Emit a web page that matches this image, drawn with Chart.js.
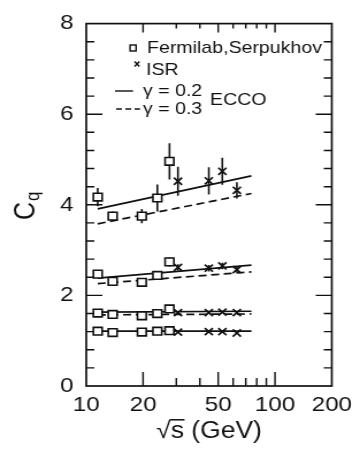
<!DOCTYPE html>
<html lang="en">
<head>
    <meta charset="UTF-8">
    <title>Cq vs sqrt(s)</title>
    <script src="https://cdn.jsdelivr.net/npm/chart.js"></script>
    <style>
        html, body {
            margin: 0;
            padding: 0;
            background: #fff;
            overflow: hidden;
        }
        /* the original figure is stretched sideways, so the canvas is too */
        #wrap {
            width: 313px;
            height: 453px;
            transform: scaleX(1.1502);
            transform-origin: 0 0;
        }
    </style>
</head>
<body>
<div id="wrap">
    <canvas id="cq" width="313" height="453"></canvas>
</div>

<script>
    // sqrt(s) in GeV
    const fsEnergy = [11.5, 13.8, 19.7, 23.8, 27.6];
    const isrEnergy = [30.6, 44.6, 52.6, 62.8];
    const eccoEnergy = [11.5, 75];

    // Fermilab, Serpukhov moments and errors
    const fsC2 = [1.21, 1.18, 1.19, 1.21, 1.22];
    const fsC3 = [1.61, 1.58, 1.55, 1.60, 1.70];
    const fsC4 = [2.47, 2.31, 2.29, 2.44, 2.74];
    const fsC4Err = [0.08, 0.05, 0.05, 0.1, 0.1];
    const fsC5 = [4.17, 3.75, 3.75, 4.15, 4.96];
    const fsC5Err = [0.2, 0.1, 0.16, 0.3, 0.4];

    // ISR moments and errors
    const isrC2 = [1.19, 1.20, 1.20, 1.17];
    const isrC3 = [1.62, 1.62, 1.63, 1.62];
    const isrC4 = [2.62, 2.60, 2.65, 2.57];
    const isrC4Err = [0.07, 0.07, 0.07, 0.07];
    const isrC5 = [4.52, 4.53, 4.74, 4.32];
    const isrC5Err = [0.32, 0.3, 0.3, 0.18];

    // ECCO curves
    const ecco02C2 = [1.21, 1.21];
    const ecco02C3 = [1.63, 1.65];
    const ecco02C4 = [2.38, 2.67];
    const ecco02C5 = [3.91, 4.64];
    const ecco03C3 = [1.57, 1.59];
    const ecco03C4 = [2.26, 2.52];
    const ecco03C5 = [3.58, 4.25];

    const xTicks = [10, 20, 50, 100, 200];
    const xSmallTicks = [20, 30, 40, 50, 60, 70, 80, 90, 100];
    const yTicks = [0, 2, 4, 6, 8];

    const ink = '#111';
    const font = '"Liberation Sans", Arial, Helvetica, sans-serif';

    const pts = (xs, ys) => xs.map((x, i) => ({x: x, y: ys[i]}));

    function markers(xs, ys, style) {
        return {
            data: pts(xs, ys),
            showLine: false,
            pointStyle: style,
            pointRadius: style === 'rect' ? 5.4 : 5,
            pointBackgroundColor: '#fff',
            pointBorderColor: ink,
            pointBorderWidth: style === 'rect' ? 1.6 : 1.7,
            order: 0
        };
    }

    function curve(ys, dashed) {
        return {
            data: pts(eccoEnergy, ys),
            showLine: true,
            borderColor: ink,
            borderWidth: 1.7,
            borderDash: dashed ? [7, 4] : [],
            pointRadius: 0,
            order: 1
        };
    }

    const errorSets = [
        [fsEnergy, fsC4, fsC4Err], [fsEnergy, fsC5, fsC5Err],
        [isrEnergy, isrC4, isrC4Err], [isrEnergy, isrC5, isrC5Err]
    ];

    // vertical error bars, drawn under the markers
    const errorBars = {
        id: 'errorBars',
        beforeDatasetsDraw(chart) {
            const {ctx, scales: {x, y}} = chart;
            ctx.save();
            ctx.strokeStyle = ink;
            ctx.lineWidth = 1.6;
            ctx.beginPath();
            errorSets.forEach(([xs, ys, es]) => {
                xs.forEach((v, i) => {
                    const px = x.getPixelForValue(v);
                    ctx.moveTo(px, y.getPixelForValue(ys[i] - es[i]));
                    ctx.lineTo(px, y.getPixelForValue(ys[i] + es[i]));
                });
            });
            ctx.stroke();
            ctx.restore();
        }
    };

    // closed frame with inward ticks on all four sides
    const frame = {
        id: 'frame',
        afterDatasetsDraw(chart) {
            const {ctx, chartArea: a, scales: {x, y}} = chart;
            ctx.save();
            ctx.strokeStyle = ink;
            ctx.lineWidth = 1.7;
            ctx.strokeRect(a.left, a.top, a.right - a.left, a.bottom - a.top);
            ctx.lineWidth = 1.4;
            ctx.beginPath();
            for (let k = 1; k < 20; k++) {
                const py = y.getPixelForValue(k * 0.4);
                const len = k % 5 === 0 ? 14 : 7;
                ctx.moveTo(a.left, py);
                ctx.lineTo(a.left + len, py);
                ctx.moveTo(a.right, py);
                ctx.lineTo(a.right - len, py);
            }
            xSmallTicks.forEach(v => {
                const px = x.getPixelForValue(v);
                const big = xTicks.includes(v);
                ctx.moveTo(px, a.bottom);
                ctx.lineTo(px, a.bottom - (big ? 14 : 8));
                ctx.moveTo(px, a.top);
                ctx.lineTo(px, a.top + (big ? 9 : 5));
            });
            ctx.stroke();
            ctx.restore();
        },
        afterDraw(chart) {
            const {ctx, chartArea: a} = chart;
            ctx.save();
            ctx.fillStyle = ink;
            ctx.strokeStyle = ink;

            // x title with the bar over s
            ctx.font = '23px ' + font;
            ctx.textBaseline = 'alphabetic';
            const title = '\u221As (GeV)';
            const tw = ctx.measureText(title).width;
            const tx = (a.left + a.right) / 2 - tw / 2;
            const ty = 438;
            ctx.fillText(title, tx, ty);
            const rad = ctx.measureText('\u221A');
            const sw = ctx.measureText('s').width;
            const top = ty - rad.actualBoundingBoxAscent + 0.8;
            ctx.lineWidth = 1.5;
            ctx.beginPath();
            ctx.moveTo(tx + rad.width - 1, top);
            ctx.lineTo(tx + rad.width + sw + 0.5, top);
            ctx.stroke();

            // y title C_q
            ctx.save();
            ctx.translate(30.4, 220);
            ctx.rotate(-Math.PI / 2);
            ctx.font = '25px ' + font;
            ctx.fillText('C', 0, 0);
            const cw = ctx.measureText('C').width;
            ctx.font = '17px ' + font;
            ctx.fillText('q', cw + 1, 4);
            ctx.restore();

            // legend
            ctx.font = '17px ' + font;
            ctx.textBaseline = 'middle';
            ctx.lineWidth = 1.4;
            ctx.strokeRect(113.1, 45, 5.2, 6);
            ctx.fillText('Fermilab,Serpukhov', 127.8, 48);
            ctx.beginPath();
            ctx.moveTo(117, 61.5);
            ctx.lineTo(121.2, 66.5);
            ctx.moveTo(121.2, 61.5);
            ctx.lineTo(117, 66.5);
            ctx.stroke();
            ctx.fillText('ISR', 127, 70);

            ctx.beginPath();
            ctx.moveTo(100, 91);
            ctx.lineTo(115.7, 91);
            ctx.stroke();
            ctx.fillText('\u03B3 = 0.2', 124.3, 91);

            ctx.setLineDash([5, 3]);
            ctx.beginPath();
            ctx.moveTo(101, 109);
            ctx.lineTo(121.7, 109);
            ctx.stroke();
            ctx.setLineDash([]);
            ctx.fillText('\u03B3 = 0.3', 124.3, 109);
            ctx.fillText('ECCO', 182.6, 100);
            ctx.restore();
        }
    };

    new Chart(document.getElementById('cq'), {
        type: 'scatter',
        data: {
            datasets: [
                markers(fsEnergy, fsC2, 'rect'),
                markers(fsEnergy, fsC3, 'rect'),
                markers(fsEnergy, fsC4, 'rect'),
                markers(fsEnergy, fsC5, 'rect'),
                markers(isrEnergy, isrC2, 'crossRot'),
                markers(isrEnergy, isrC3, 'crossRot'),
                markers(isrEnergy, isrC4, 'crossRot'),
                markers(isrEnergy, isrC5, 'crossRot'),
                curve(ecco02C2, false),
                curve(ecco02C3, false),
                curve(ecco02C4, false),
                curve(ecco02C5, false),
                curve(ecco03C3, true),
                curve(ecco03C4, true),
                curve(ecco03C5, true)
            ]
        },
        options: {
            responsive: false,
            devicePixelRatio: 1,
            animation: false,
            layout: {padding: {left: 0, right: 18, top: 16, bottom: 0}},
            plugins: {
                legend: {display: false},
                tooltip: {enabled: false}
            },
            scales: {
                x: {
                    type: 'logarithmic',
                    min: 10,
                    max: 200,
                    grid: {display: false, drawTicks: false},
                    border: {display: false},
                    afterBuildTicks: s => { s.ticks = xTicks.map(v => ({value: v})); },
                    afterFit: s => { s.height = 67; },
                    ticks: {
                        autoSkip: false,
                        maxRotation: 0,
                        padding: 7,
                        color: ink,
                        font: {family: font, size: 21},
                        callback: v => String(v)
                    }
                },
                y: {
                    min: 0,
                    max: 8,
                    grid: {display: false, drawTicks: false},
                    border: {display: false},
                    afterBuildTicks: s => { s.ticks = yTicks.map(v => ({value: v})); },
                    afterFit: s => { s.width = 75; },
                    ticks: {
                        padding: 11,
                        color: ink,
                        font: {family: font, size: 21},
                        callback: v => String(v)
                    }
                }
            }
        },
        plugins: [errorBars, frame]
    });
</script>
</body>
</html>
